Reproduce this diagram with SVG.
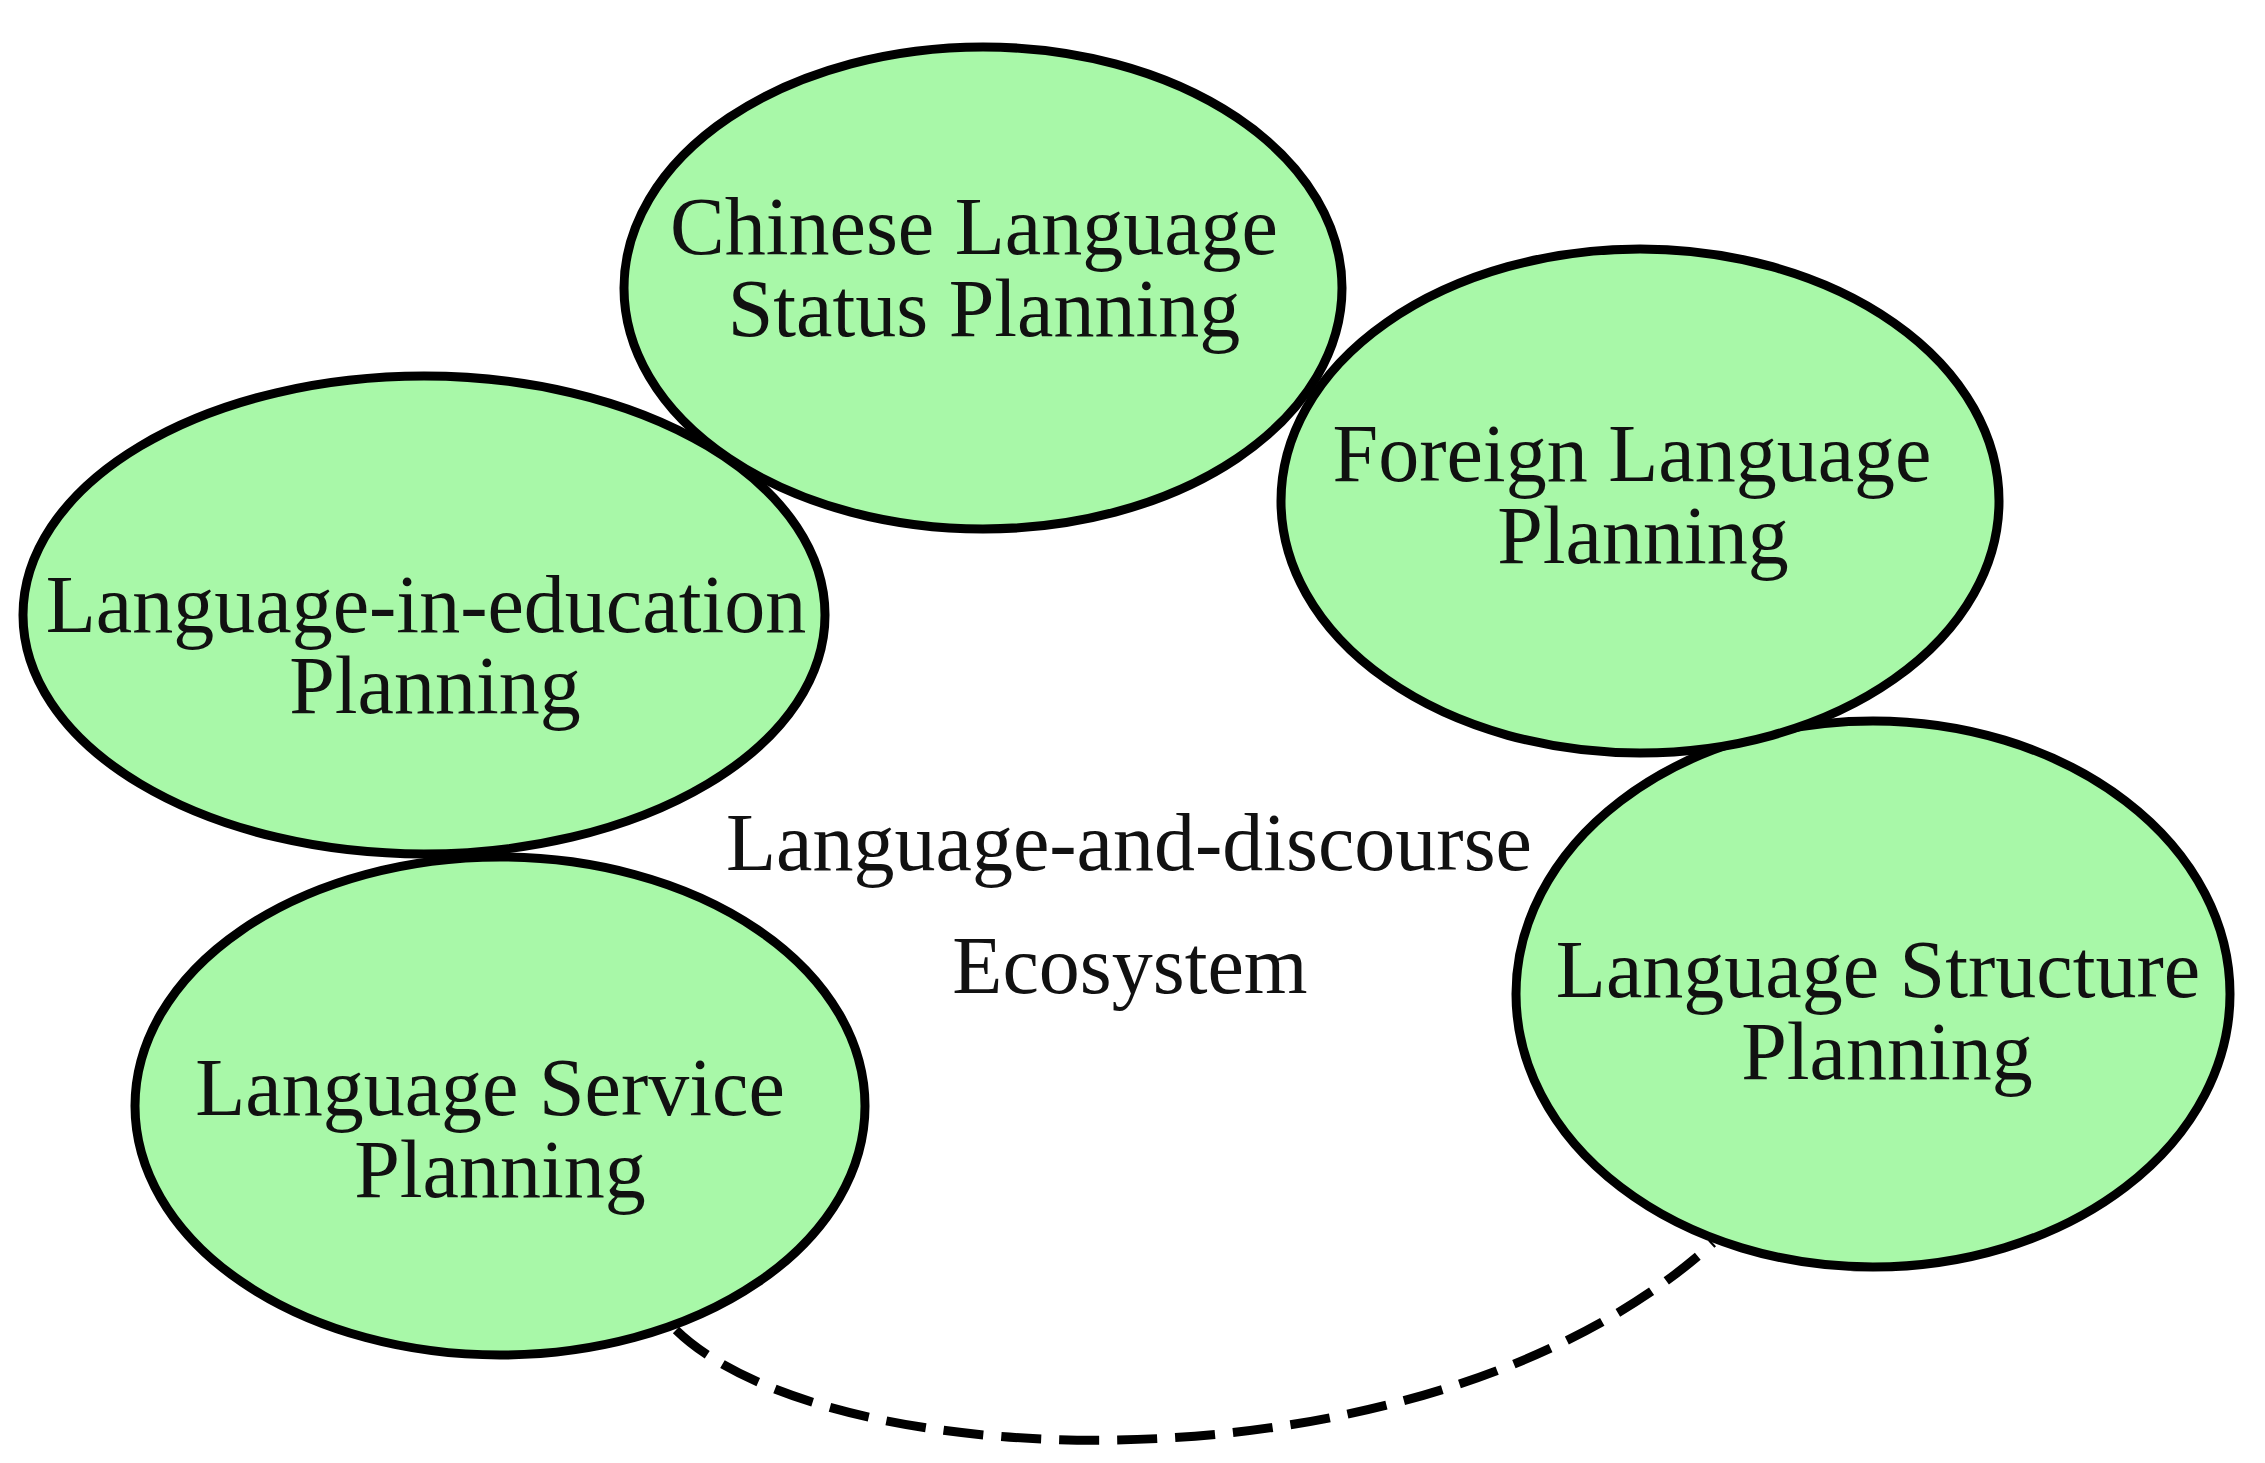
<svg xmlns="http://www.w3.org/2000/svg" width="2265" height="1463" viewBox="0 0 2265 1463">
  <style>
    .node { fill: #a8f8a8; stroke: #000; stroke-width: 9; }
    .lbl { font-family: "Liberation Serif", "Times New Roman", serif; font-size: 82px; fill: #111; text-anchor: middle; }
    .conn { fill: none; stroke: #000; stroke-width: 9; stroke-dasharray: 40 18; }
  </style>
  <rect x="0" y="0" width="2265" height="1463" fill="#fff"/>
  <g id="connectors">
    <path class="conn" d="M676,1330 C830,1480 1430,1500 1713,1243"/>
  </g>
  <g id="node-language-in-education">
    <ellipse class="node" cx="424" cy="615" rx="401" ry="239"/>
    <text class="lbl" x="426" y="632">Language-in-education</text>
    <text class="lbl" x="435" y="713">Planning</text>
  </g>
  <g id="node-language-service">
    <ellipse class="node" cx="500" cy="1106" rx="365" ry="249"/>
    <text class="lbl" x="490" y="1115">Language Service</text>
    <text class="lbl" x="500" y="1197">Planning</text>
  </g>
  <g id="node-chinese-status">
    <ellipse class="node" cx="983" cy="288" rx="359" ry="241"/>
    <text class="lbl" x="974" y="254">Chinese Language</text>
    <text class="lbl" x="984" y="336">Status Planning</text>
  </g>
  <g id="node-language-structure">
    <ellipse class="node" cx="1873" cy="994" rx="357" ry="273"/>
    <text class="lbl" x="1878" y="997">Language Structure</text>
    <text class="lbl" x="1887" y="1079">Planning</text>
  </g>
  <g id="node-foreign-language">
    <ellipse class="node" cx="1640" cy="501" rx="359" ry="252"/>
    <text class="lbl" x="1632" y="481">Foreign Language</text>
    <text class="lbl" x="1643" y="563">Planning</text>
  </g>
  <g id="center-label">
    <text class="lbl" x="1129" y="870">Language-and-discourse</text>
    <text class="lbl" x="1130" y="993">Ecosystem</text>
  </g>
</svg>
